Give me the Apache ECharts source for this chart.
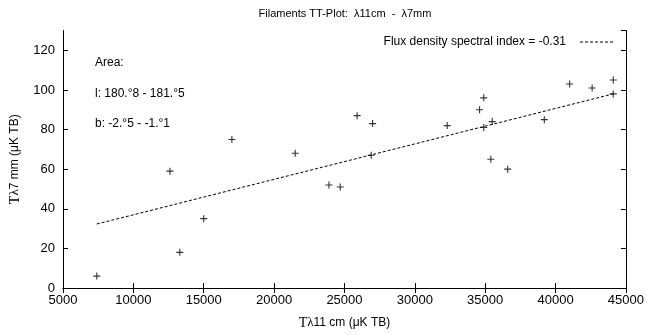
<!DOCTYPE html>
<html><head><meta charset="utf-8">
<script src="https://cdn.jsdelivr.net/npm/echarts@6/dist/echarts.min.js"></script>
<style>html,body{margin:0;padding:0;background:#fff}#c{width:647px;height:335px}</style>
</head><body><div id="c"></div>
<script>
const xValues = [7400, 12600, 13300, 15000, 17000, 21500, 23900, 24700, 25900, 27000, 26900, 32300, 34600, 34900, 34900, 35500, 35400, 36600, 39200, 41000, 42600, 44100, 44100];
const yValues = [6, 59, 18, 35, 75, 68, 52, 51, 87, 83, 67, 82, 90, 96, 81, 84, 65, 60, 85, 103, 101, 105, 98];
const fitX = [7400, 44100];
const fitY = [32.3, 98];
const xTicks = [5000, 45000, 5000];
const yTicks = [0, 130, 20];
const titleText = 'Filaments TT-Plot:  λ11cm  -  λ7mm';
const fitName = 'Flux density spectral index = -0.31';
const notes = ['Area:', 'l: 180.°8 - 181.°5', 'b: -2.°5 - -1.°1'];

const points = xValues.map((x, i) => [x, yValues[i]]);
const fitLine = fitX.map((x, i) => [x, fitY[i]]);
const sans = 'Liberation Sans, Arial, sans-serif';
const serif = 'Liberation Serif, Times New Roman, serif';
const plus = 'path://M0,4.2h10v1.6h-10z M4.2,0h1.6v10h-1.6z';
let dashPath = 'path://';
for (let i = 0; i < 33; i += 5) dashPath += 'M' + i + ',0h3v1h-3z ';

const axisCommon = {
  axisLine: {show: true, lineStyle: {color: '#000', width: 1}},
  axisTick: {show: true, inside: true, length: 5, lineStyle: {color: '#000'}},
  splitLine: {show: false}
};

const chart = echarts.init(document.getElementById('c'), null, {renderer: 'canvas'});
chart.setOption({
  animation: false,
  backgroundColor: '#fff',
  title: {text: titleText, left: 340, top: 3, textAlign: 'center',
    textStyle: {fontFamily: sans, fontSize: 11, fontWeight: 'normal', color: '#000'}},
  grid: {left: 59.5, right: 17.5, top: 30.5, bottom: 40.5},
  legend: {
    right: 29, top: 31, align: 'right', itemWidth: 33, itemHeight: 1, itemGap: 0,
    data: [{name: fitName, icon: dashPath}],
    textStyle: {fontFamily: sans, fontSize: 12, color: '#000', padding: [0, 9, 0, 0]},
    selectedMode: false
  },
  xAxis: [
    Object.assign({type: 'value', min: xTicks[0], max: xTicks[1], interval: xTicks[2], position: 'bottom',
      axisLabel: {fontFamily: sans, fontSize: 13, color: '#000', margin: 6, formatter: v => String(v)},
      name: '{t|T}{l|λ}{s|11 cm (μK TB)}', nameLocation: 'middle', nameGap: 28,
      nameTextStyle: {rich: {
        t: {fontFamily: serif, fontSize: 14, color: '#000'},
        l: {fontFamily: serif, fontSize: 13, color: '#000'},
        s: {fontFamily: sans, fontSize: 12, color: '#000'}}}
    }, axisCommon),
    Object.assign({type: 'value', min: xTicks[0], max: xTicks[1], interval: xTicks[2], position: 'top',
      axisLabel: {show: false}}, axisCommon)
  ],
  yAxis: [
    Object.assign({type: 'value', min: yTicks[0], max: yTicks[1], interval: yTicks[2], position: 'left',
      axisLabel: {fontFamily: sans, fontSize: 13, color: '#000', margin: 8, showMaxLabel: false,
        formatter: v => (v === yTicks[1] ? '' : String(v))},
      name: '{t|T}{l|λ}{s|7 mm (μK TB)}', nameLocation: 'middle', nameGap: 41, nameRotate: 90,
      nameTextStyle: {rich: {
        t: {fontFamily: serif, fontSize: 14, color: '#000'},
        l: {fontFamily: serif, fontSize: 13, color: '#000'},
        s: {fontFamily: sans, fontSize: 12, color: '#000'}}}
    }, axisCommon),
    Object.assign({type: 'value', min: yTicks[0], max: yTicks[1], interval: yTicks[2], position: 'right',
      axisLabel: {show: false}}, axisCommon)
  ],
  graphic: notes.map((t, i) => ({
    type: 'text', left: 95, top: 57 + i * 30.5,
    style: {text: t, font: '12px ' + sans, fill: '#000'}
  })),
  series: [
    {type: 'scatter', name: 'data', data: points, symbol: plus, symbolSize: 7,
      itemStyle: {color: '#000'}},
    {type: 'line', name: fitName, data: fitLine, showSymbol: false, symbol: 'none',
      lineStyle: {color: '#000', width: 1, type: [3, 2]}, itemStyle: {color: '#000'}}
  ]
});
</script></body></html>
